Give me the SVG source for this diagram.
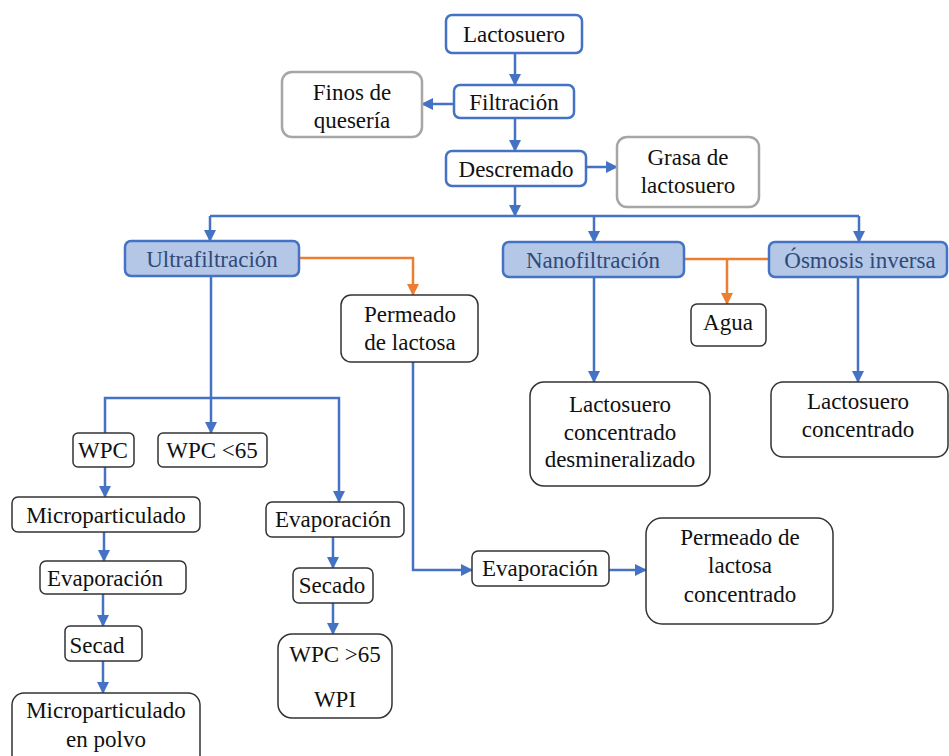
<svg xmlns="http://www.w3.org/2000/svg" width="949" height="756" viewBox="0 0 949 756">
<defs>
<marker id="ab" markerUnits="userSpaceOnUse" markerWidth="12" markerHeight="12" viewBox="0 0 12 12" refX="11" refY="6" orient="auto"><path d="M0,0 L12,6 L0,12 Z" fill="#4472C4"/></marker>
<marker id="ao" markerUnits="userSpaceOnUse" markerWidth="12" markerHeight="12" viewBox="0 0 12 12" refX="11" refY="6" orient="auto"><path d="M0,0 L12,6 L0,12 Z" fill="#ED7D31"/></marker>
</defs>
<rect width="949" height="756" fill="#fff"/>
<g id="connectors" fill="none" stroke="#4472C4" stroke-width="2.5">
<path d="M515,53 V85" marker-end="url(#ab)"/>
<path d="M515,118 V151" marker-end="url(#ab)"/>
<path d="M454,104 H422" marker-end="url(#ab)"/>
<path d="M586,167 H617" marker-end="url(#ab)"/>
<path d="M515,186 V216" marker-end="url(#ab)"/>
<path d="M210,216 H859"/>
<path d="M210,216 V241" marker-end="url(#ab)"/>
<path d="M594,216 V242" marker-end="url(#ab)"/>
<path d="M859,216 V242" marker-end="url(#ab)"/>
<path stroke="#ED7D31" d="M299,258 H413 V295" marker-end="url(#ao)"/>
<path stroke="#ED7D31" d="M684,259 H769"/>
<path stroke="#ED7D31" d="M727,259 V304" marker-end="url(#ao)"/>
<path d="M594,277 V382" marker-end="url(#ab)"/>
<path d="M858,277 V382" marker-end="url(#ab)"/>
<path d="M211,276 V433" marker-end="url(#ab)"/>
<path d="M105,433 V398 H339 V502" marker-end="url(#ab)"/>
<path d="M413,362 V570 H472" marker-end="url(#ab)"/>
<path d="M609,570 H646" marker-end="url(#ab)"/>
<path d="M105,467 V497" marker-end="url(#ab)"/>
<path d="M104,532 V561" marker-end="url(#ab)"/>
<path d="M103,594 V626" marker-end="url(#ab)"/>
<path d="M103,661 V693" marker-end="url(#ab)"/>
<path d="M333,537 V568" marker-end="url(#ab)"/>
<path d="M333,603 V634" marker-end="url(#ab)"/>
</g>
<g id="lactosuero"><rect x="446" y="15" width="136" height="38" rx="6" fill="#fff" stroke="#4472C4" stroke-width="2.5"/><text font-family="Times New Roman" font-size="23" text-anchor="middle" fill="#111" x="514" y="42">Lactosuero</text></g>
<g id="filtracion"><rect x="454" y="85" width="120" height="33" rx="6" fill="#fff" stroke="#4472C4" stroke-width="2.5"/><text font-family="Times New Roman" font-size="23" text-anchor="middle" fill="#111" x="514" y="110">Filtración</text></g>
<g id="finos"><rect x="282" y="72" width="140" height="65" rx="10" fill="#fff" stroke="#A6A6A6" stroke-width="2.5"/><text font-family="Times New Roman" font-size="23" text-anchor="middle" fill="#111" x="352" y="100">Finos de</text><text font-family="Times New Roman" font-size="23" text-anchor="middle" fill="#111" x="352" y="128">quesería</text></g>
<g id="descremado"><rect x="446" y="151" width="140" height="35" rx="6" fill="#fff" stroke="#4472C4" stroke-width="2.5"/><text font-family="Times New Roman" font-size="23" text-anchor="middle" fill="#111" x="516" y="177">Descremado</text></g>
<g id="grasa"><rect x="617" y="137" width="142" height="70" rx="10" fill="#fff" stroke="#A6A6A6" stroke-width="2.5"/><text font-family="Times New Roman" font-size="23" text-anchor="middle" fill="#111" x="688" y="165">Grasa de</text><text font-family="Times New Roman" font-size="23" text-anchor="middle" fill="#111" x="688" y="193">lactosuero</text></g>
<g id="ultrafiltracion"><rect x="125" y="241" width="174" height="35" rx="6" fill="#B4C7E7" stroke="#4472C4" stroke-width="2.5"/><text font-family="Times New Roman" font-size="23" text-anchor="middle" fill="#2F4A78" x="212" y="267">Ultrafiltración</text></g>
<g id="nanofiltracion"><rect x="503" y="242" width="181" height="35" rx="6" fill="#B4C7E7" stroke="#4472C4" stroke-width="2.5"/><text font-family="Times New Roman" font-size="23" text-anchor="middle" fill="#2F4A78" x="593" y="268">Nanofiltración</text></g>
<g id="osmosis"><rect x="769" y="242" width="178" height="35" rx="6" fill="#B4C7E7" stroke="#4472C4" stroke-width="2.5"/><text font-family="Times New Roman" font-size="23" text-anchor="middle" fill="#2F4A78" x="860" y="268">Ósmosis inversa</text></g>
<g id="permeado"><rect x="341" y="295" width="137" height="67" rx="10" fill="#fff" stroke="#333" stroke-width="1.5"/><text font-family="Times New Roman" font-size="23" text-anchor="middle" fill="#111" x="410" y="322">Permeado</text><text font-family="Times New Roman" font-size="23" text-anchor="middle" fill="#111" x="410" y="350">de lactosa</text></g>
<g id="agua"><rect x="691" y="304" width="75" height="42" rx="6" fill="#fff" stroke="#333" stroke-width="1.5"/><text font-family="Times New Roman" font-size="23" text-anchor="middle" fill="#111" x="728" y="330">Agua</text></g>
<g id="lcd"><rect x="530" y="382" width="180" height="104" rx="14" fill="#fff" stroke="#333" stroke-width="1.5"/><text font-family="Times New Roman" font-size="23" text-anchor="middle" fill="#111" x="620" y="412">Lactosuero</text><text font-family="Times New Roman" font-size="23" text-anchor="middle" fill="#111" x="620" y="440">concentrado</text><text font-family="Times New Roman" font-size="23" text-anchor="middle" fill="#111" x="620" y="467">desmineralizado</text></g>
<g id="lc"><rect x="771" y="382" width="177" height="75" rx="12" fill="#fff" stroke="#333" stroke-width="1.5"/><text font-family="Times New Roman" font-size="23" text-anchor="middle" fill="#111" x="858" y="409">Lactosuero</text><text font-family="Times New Roman" font-size="23" text-anchor="middle" fill="#111" x="858" y="437">concentrado</text></g>
<g id="wpc"><rect x="73" y="433" width="61" height="34" rx="5" fill="#fff" stroke="#333" stroke-width="1.5"/><text font-family="Times New Roman" font-size="23" text-anchor="middle" fill="#111" x="103" y="458">WPC</text></g>
<g id="wpc65"><rect x="158" y="433" width="109" height="34" rx="5" fill="#fff" stroke="#333" stroke-width="1.5"/><text font-family="Times New Roman" font-size="23" text-anchor="middle" fill="#111" x="212" y="458">WPC &lt;65</text></g>
<g id="micro"><rect x="12" y="497" width="188" height="35" rx="6" fill="#fff" stroke="#333" stroke-width="1.5"/><text font-family="Times New Roman" font-size="23" text-anchor="middle" fill="#111" x="106" y="523">Microparticulado</text></g>
<g id="evap1"><rect x="40" y="561" width="146" height="33" rx="6" fill="#fff" stroke="#333" stroke-width="1.5"/><text font-family="Times New Roman" font-size="23" text-anchor="middle" fill="#111" x="105" y="586">Evaporación</text></g>
<g id="secad"><rect x="65" y="626" width="77" height="35" rx="5" fill="#fff" stroke="#333" stroke-width="1.5"/><text font-family="Times New Roman" font-size="23" text-anchor="middle" fill="#111" x="97" y="653">Secad</text></g>
<g id="micropolvo"><rect x="12" y="693" width="188" height="75" rx="12" fill="#fff" stroke="#333" stroke-width="1.5"/><text font-family="Times New Roman" font-size="23" text-anchor="middle" fill="#111" x="106" y="718">Microparticulado</text><text font-family="Times New Roman" font-size="23" text-anchor="middle" fill="#111" x="106" y="747">en polvo</text></g>
<g id="evap2"><rect x="266" y="502" width="138" height="35" rx="6" fill="#fff" stroke="#333" stroke-width="1.5"/><text font-family="Times New Roman" font-size="23" text-anchor="middle" fill="#111" x="333" y="527">Evaporación</text></g>
<g id="secado"><rect x="293" y="568" width="80" height="35" rx="6" fill="#fff" stroke="#333" stroke-width="1.5"/><text font-family="Times New Roman" font-size="23" text-anchor="middle" fill="#111" x="332" y="593">Secado</text></g>
<g id="wpi"><rect x="278" y="634" width="114" height="84" rx="14" fill="#fff" stroke="#333" stroke-width="1.5"/><text font-family="Times New Roman" font-size="23" text-anchor="middle" fill="#111" x="335" y="662">WPC &gt;65</text><text font-family="Times New Roman" font-size="23" text-anchor="middle" fill="#111" x="335" y="707">WPI</text></g>
<g id="evap3"><rect x="472" y="551" width="137" height="35" rx="6" fill="#fff" stroke="#333" stroke-width="1.5"/><text font-family="Times New Roman" font-size="23" text-anchor="middle" fill="#111" x="540" y="576">Evaporación</text></g>
<g id="plc"><rect x="646" y="518" width="187" height="106" rx="16" fill="#fff" stroke="#333" stroke-width="1.5"/><text font-family="Times New Roman" font-size="23" text-anchor="middle" fill="#111" x="740" y="545">Permeado de</text><text font-family="Times New Roman" font-size="23" text-anchor="middle" fill="#111" x="740" y="573">lactosa</text><text font-family="Times New Roman" font-size="23" text-anchor="middle" fill="#111" x="740" y="602">concentrado</text></g>
</svg>
